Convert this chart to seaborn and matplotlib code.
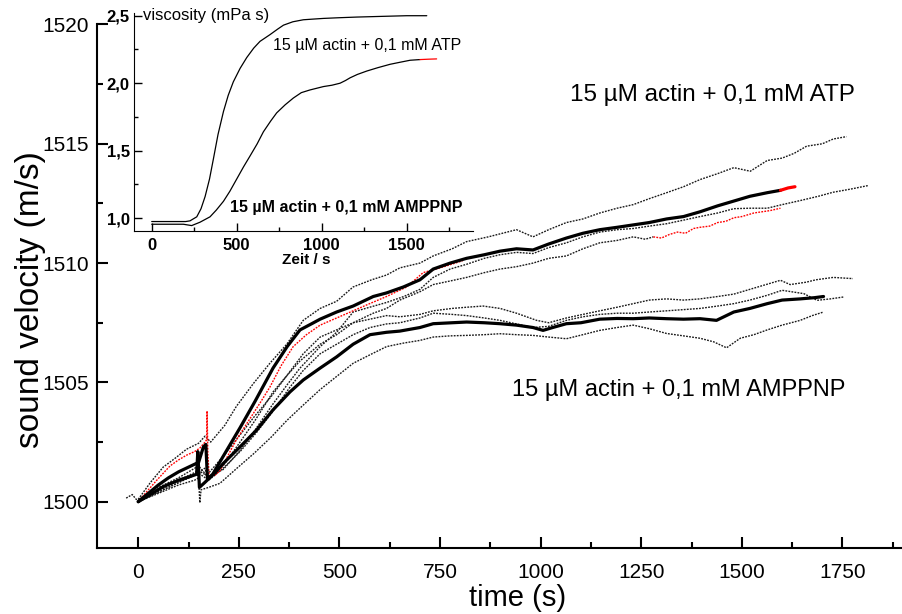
import matplotlib
matplotlib.use("Agg")
import matplotlib.pyplot as plt
import seaborn as sns
from matplotlib.ticker import MultipleLocator, FuncFormatter

# --- sound velocity, 15 uM actin + 0.1 mM ATP ---
atp_mean_x = [0, 25, 50, 75, 100, 125, 150, 162, 168, 172, 185, 211, 253, 290, 335, 370, 402, 430, 452, 493,
              534, 584, 617, 659, 700, 733, 775, 816, 860, 899, 940, 981, 1020, 1064, 1105, 1147, 1190, 1230,
              1270, 1313, 1355, 1396, 1440, 1480, 1520, 1563, 1596]
atp_mean_y = [1500.0, 1500.35, 1500.7, 1501.0, 1501.25, 1501.45, 1501.65, 1502.3, 1502.4, 1500.95, 1501.15,
              1501.9, 1503.1, 1504.2, 1505.6, 1506.5, 1507.2, 1507.45, 1507.65, 1507.95, 1508.2, 1508.6,
              1508.75, 1509.0, 1509.3, 1509.75, 1510.0, 1510.2, 1510.35, 1510.5, 1510.6, 1510.55, 1510.8,
              1511.05, 1511.25, 1511.4, 1511.5, 1511.6, 1511.7, 1511.85, 1511.95, 1512.15, 1512.4, 1512.6,
              1512.8, 1512.95, 1513.05]
atp_mean_end_x = [1596, 1615, 1632]
atp_mean_end_y = [1513.05, 1513.15, 1513.2]

atp_red_x = [0, 20, 46, 79, 100, 120, 140, 153, 166, 170, 171, 173, 176, 190, 203, 225, 244, 265, 286, 305,
             327, 355, 385, 418, 452, 493, 534, 575, 617, 667, 708, 760, 806]
atp_red_y = [1500.0, 1500.4, 1500.9, 1501.5, 1501.75, 1501.95, 1502.1, 1502.25, 1502.5, 1502.6, 1503.8,
             1502.0, 1501.1, 1501.1, 1501.3, 1502.0, 1502.6, 1503.15, 1503.7, 1504.2, 1504.8, 1505.7,
             1506.5, 1507.0, 1507.4, 1507.7, 1508.0, 1508.3, 1508.6, 1509.0, 1509.6, 1509.85, 1510.1]
atp_red2_x = [1280, 1300, 1320, 1340, 1360, 1380, 1396, 1420, 1440, 1460, 1480, 1500, 1530, 1550, 1570, 1596]
atp_red2_y = [1511.1, 1511.05, 1511.2, 1511.3, 1511.25, 1511.45, 1511.5, 1511.55, 1511.7, 1511.75, 1511.9,
              1511.95, 1512.1, 1512.15, 1512.2, 1512.3]

atp_mid_x = [0, 50, 100, 150, 165, 176, 211, 253, 290, 335, 370, 402, 452, 493, 534, 584, 617, 650, 700, 733,
             775, 816, 860, 899, 940, 981, 1020, 1064, 1105, 1147, 1190, 1230, 1260, 1280]
atp_mid_y = [1500.0, 1500.4, 1500.8, 1501.2, 1501.4, 1501.0, 1501.5, 1502.5, 1503.4, 1504.6, 1505.3, 1505.9,
             1506.6, 1507.0, 1507.5, 1507.9, 1508.1, 1508.45, 1508.8, 1509.1, 1509.25, 1509.4, 1509.6,
             1509.75, 1509.85, 1510.0, 1510.2, 1510.3, 1510.6, 1510.85, 1510.95, 1511.1, 1511.0, 1511.1]

atp_hi_x = [0, 30, 62, 90, 120, 150, 166, 180, 215, 244, 286, 327, 369, 410, 452, 493, 534, 580, 617, 650,
            700, 733, 780, 816, 870, 940, 981, 1020, 1064, 1105, 1147, 1190, 1230, 1270, 1313, 1355, 1396,
            1440, 1480, 1521, 1563, 1600, 1630, 1661, 1700, 1727, 1760]
atp_hi_y = [1500.1, 1500.8, 1501.45, 1501.8, 1502.2, 1502.45, 1502.75, 1502.5, 1503.2, 1504.0, 1504.95,
            1505.8, 1506.6, 1507.6, 1508.1, 1508.4, 1509.0, 1509.3, 1509.5, 1509.8, 1510.0, 1510.3, 1510.6,
            1510.9, 1511.1, 1511.4, 1511.1, 1511.4, 1511.7, 1511.85, 1512.1, 1512.3, 1512.45, 1512.7,
            1512.95, 1513.2, 1513.5, 1513.75, 1514.0, 1513.85, 1514.3, 1514.4, 1514.6, 1514.9, 1515.0,
            1515.2, 1515.3]

atp_lo_x = [0, 50, 100, 150, 175, 211, 253, 290, 335, 370, 402, 452, 493, 534, 575, 617, 660, 700, 733, 775,
            816, 860, 899, 940, 981, 1020, 1064, 1105, 1147, 1190, 1230, 1270, 1313, 1355, 1396, 1440, 1480,
            1520, 1563, 1600, 1645, 1690, 1727, 1770, 1814]
atp_lo_y = [1500.0, 1500.45, 1500.9, 1501.3, 1501.05, 1501.35, 1502.15, 1503.0, 1504.1, 1504.9, 1505.6,
            1506.5, 1507.1, 1507.95, 1508.15, 1508.35, 1508.6, 1508.9, 1509.4, 1509.75, 1509.95, 1510.2,
            1510.35, 1510.45, 1510.4, 1510.65, 1510.85, 1511.1, 1511.3, 1511.4, 1511.45, 1511.55, 1511.65,
            1511.8, 1511.95, 1512.1, 1512.28, 1512.3, 1512.3, 1512.45, 1512.62, 1512.8, 1512.97, 1513.1,
            1513.25]

# --- sound velocity, 15 uM actin + 0.1 mM AMPPNP ---
amp_mean_x = [0, 30, 62, 100, 128, 145, 148, 152, 165, 190, 211, 253, 294, 335, 377, 410, 452, 493, 534, 576,
              617, 650, 700, 733, 780, 816, 860, 899, 940, 981, 1006, 1030, 1064, 1100, 1147, 1190, 1230,
              1270, 1313, 1355, 1396, 1437, 1480, 1520, 1563, 1600, 1645, 1680, 1703]
amp_mean_y = [1500.0, 1500.3, 1500.63, 1500.9, 1501.05, 1501.15, 1502.1, 1500.6, 1500.8, 1501.2, 1501.6,
              1502.3, 1503.0, 1503.85, 1504.6, 1505.1, 1505.6, 1506.07, 1506.6, 1507.0, 1507.1, 1507.15,
              1507.3, 1507.46, 1507.5, 1507.53, 1507.5, 1507.46, 1507.4, 1507.3, 1507.18, 1507.3, 1507.46,
              1507.5, 1507.65, 1507.68, 1507.67, 1507.7, 1507.67, 1507.65, 1507.67, 1507.6, 1507.95, 1508.1,
              1508.3, 1508.45, 1508.5, 1508.55, 1508.6]

amp_hi_x = [0, 50, 100, 140, 150, 170, 211, 253, 290, 330, 370, 410, 452, 493, 534, 576, 617, 650, 700, 733,
            780, 816, 857, 899, 940, 990, 1020, 1064, 1105, 1147, 1190, 1230, 1270, 1313, 1355, 1396, 1440,
            1480, 1540, 1596, 1620, 1660, 1684, 1727, 1776]
amp_hi_y = [1500.1, 1500.6, 1501.0, 1501.4, 1501.5, 1501.1, 1501.9, 1502.8, 1503.6, 1504.4, 1505.3, 1506.2,
            1506.9, 1507.2, 1507.5, 1507.65, 1507.8, 1507.75, 1507.85, 1508.0, 1508.1, 1508.15, 1508.2,
            1508.1, 1507.9, 1507.6, 1507.5, 1507.7, 1507.85, 1508.0, 1508.15, 1508.3, 1508.45, 1508.5,
            1508.45, 1508.5, 1508.6, 1508.7, 1509.0, 1509.28, 1509.1, 1509.2, 1509.3, 1509.4, 1509.35]

amp_mid_x = [0, 50, 100, 150, 175, 211, 253, 294, 335, 377, 410, 452, 493, 534, 576, 617, 650, 700, 733, 780,
             816, 860, 899, 940, 981, 1020, 1064, 1105, 1147, 1190, 1230, 1270, 1313, 1355, 1396, 1440, 1480,
             1520, 1563, 1600, 1654, 1687, 1720, 1753]
amp_mid_y = [1500.0, 1500.4, 1500.8, 1501.2, 1500.9, 1501.4, 1502.1, 1502.9, 1503.8, 1504.8, 1505.5, 1506.2,
             1506.6, 1507.0, 1507.3, 1507.45, 1507.5, 1507.7, 1507.9, 1507.85, 1507.8, 1507.7, 1507.6,
             1507.45, 1507.3, 1507.35, 1507.6, 1507.75, 1507.85, 1507.9, 1507.9, 1507.95, 1508.0, 1508.05,
             1508.1, 1508.2, 1508.3, 1508.45, 1508.65, 1508.86, 1508.72, 1508.44, 1508.5, 1508.58]

amp_lo_x = [-30, -15, 0, 50, 100, 140, 150, 153, 156, 175, 203, 245, 286, 330, 369, 410, 452, 493, 534, 575,
            617, 660, 700, 733, 775, 816, 860, 899, 940, 981, 1020, 1064, 1105, 1147, 1190, 1230, 1270, 1313,
            1355, 1396, 1430, 1462, 1496, 1530, 1563, 1600, 1645, 1675, 1703]
amp_lo_y = [1500.15, 1500.3, 1500.0, 1500.35, 1500.7, 1500.9, 1501.0, 1499.95, 1500.5, 1500.6, 1500.77,
            1501.4, 1502.0, 1502.7, 1503.4, 1504.05, 1504.7, 1505.25, 1505.8, 1506.15, 1506.5, 1506.65,
            1506.76, 1506.9, 1506.95, 1506.97, 1507.0, 1507.04, 1507.0, 1506.97, 1506.9, 1506.83, 1507.0,
            1507.18, 1507.3, 1507.4, 1507.25, 1507.05, 1506.95, 1506.85, 1506.7, 1506.45, 1506.85, 1507.0,
            1507.2, 1507.4, 1507.6, 1507.8, 1507.95]

# --- inset: viscosity ---
visc_atp_x = [0, 100, 200, 225, 265, 290, 314, 340, 363, 390, 422, 450, 480, 520, 559, 600, 637, 696, 740,
              775, 830, 892, 950, 1010, 1100, 1206, 1350, 1500, 1618]
visc_atp_y = [0.975, 0.975, 0.975, 0.98, 1.01, 1.07, 1.16, 1.29, 1.44, 1.62, 1.79, 1.91, 2.01, 2.11, 2.19,
              2.26, 2.31, 2.36, 2.40, 2.43, 2.455, 2.47, 2.475, 2.48, 2.485, 2.49, 2.495, 2.5, 2.5]
visc_amp_x = [0, 100, 186, 235, 284, 343, 380, 422, 460, 500, 540, 578, 620, 657, 700, 735, 785, 833, 880,
              931, 1010, 1060, 1108, 1140, 1167, 1210, 1265, 1330, 1402, 1460, 1520, 1578]
visc_amp_y = [0.955, 0.955, 0.955, 0.945, 0.97, 1.01, 1.06, 1.125, 1.2, 1.29, 1.38, 1.46, 1.55, 1.64, 1.72,
              1.78, 1.84, 1.89, 1.93, 1.95, 1.975, 1.985, 2.0, 2.02, 2.04, 2.065, 2.09, 2.115, 2.14, 2.155,
              2.17, 2.175]
visc_amp_red_x = [1578, 1630, 1676]
visc_amp_red_y = [2.175, 2.178, 2.18]

sns.set_style("ticks")
plt.rcParams['font.family'] = ['Liberation Sans', 'DejaVu Sans']
plt.rcParams.update({'text.color': 'black', 'axes.labelcolor': 'black', 'axes.edgecolor': 'black',
                     'xtick.color': 'black', 'ytick.color': 'black'})

fig = plt.figure(figsize=(9.02, 6.14), dpi=100)
ax = fig.add_axes([0.1075, 0.1075, 0.8925, 0.8534])

DOT = (0, (1.3, 0.9))


def line(a, x, y, color='black', lw=1.0, ls=DOT, z=2):
    sns.lineplot(x=x, y=y, ax=a, color=color, linewidth=lw, linestyle=ls,
                 sort=False, estimator=None, zorder=z)


# dotted single runs
for xs, ys in [(atp_hi_x, atp_hi_y), (atp_mid_x, atp_mid_y), (atp_lo_x, atp_lo_y),
               (amp_hi_x, amp_hi_y), (amp_mid_x, amp_mid_y), (amp_lo_x, amp_lo_y)]:
    line(ax, xs, ys, color='#1a1a1a')
line(ax, atp_red_x, atp_red_y, color='red', z=3)
line(ax, atp_red2_x, atp_red2_y, color='red', z=3)

# averaged curves
line(ax, atp_mean_x, atp_mean_y, lw=2.3, ls='-', z=4)
line(ax, atp_mean_end_x, atp_mean_end_y, color='red', lw=2.3, ls='-', z=4)
line(ax, amp_mean_x, amp_mean_y, lw=2.3, ls='-', z=4)

ax.set_xlim(-102.6, 1898)
ax.set_ylim(1498.06, 1520.02)
ax.xaxis.set_major_locator(MultipleLocator(250))
ax.xaxis.set_minor_locator(MultipleLocator(125))
ax.yaxis.set_major_locator(MultipleLocator(5))
ax.yaxis.set_minor_locator(MultipleLocator(2.5))
ax.tick_params(which='both', direction='in', width=1.5, labelsize=15)
ax.tick_params(which='major', length=8)
ax.tick_params(which='minor', length=4)
ax.tick_params(axis='x', pad=11)
ax.tick_params(axis='y', pad=6)
for s in ['top', 'right']:
    ax.spines[s].set_visible(False)
for s in ['left', 'bottom']:
    ax.spines[s].set_linewidth(1.5)

ax.set_xlabel('time (s)', fontsize=21)
ax.xaxis.set_label_coords(0.523, -0.069)
ax.set_ylabel('sound velocity (m/s)', fontsize=24)
ax.yaxis.set_label_coords(-0.063, 0.475)

ax.text(1072, 1517.06, '15 µM actin + 0,1 mM ATP', fontsize=17.5, ha='left', va='center')
ax.text(928, 1504.67, '15 µM actin + 0,1 mM AMPPNP', fontsize=17, ha='left', va='center')

# inset
ins = fig.add_axes([0.1486, 0.6238, 0.3758, 0.355])
ins.set_facecolor('white')
line(ins, visc_atp_x, visc_atp_y, lw=0.9, ls='-')
line(ins, visc_amp_x, visc_amp_y, lw=0.9, ls='-')
line(ins, visc_amp_red_x, visc_amp_red_y, color='red', lw=0.9, ls='-')
ins.set_xlim(-104, 1890)
ins.set_ylim(0.905, 2.52)
ins.xaxis.set_major_locator(MultipleLocator(500))
ins.xaxis.set_minor_locator(MultipleLocator(250))
ins.yaxis.set_major_locator(MultipleLocator(0.5))
ins.yaxis.set_minor_locator(MultipleLocator(0.25))
ins.yaxis.set_major_formatter(FuncFormatter(lambda v, p: f'{v:.1f}'.replace('.', ',')))
ins.tick_params(which='both', direction='in', width=1.0, labelsize=12)
ins.tick_params(which='major', length=6)
ins.tick_params(which='minor', length=3)
ins.tick_params(axis='x', pad=5)
ins.tick_params(axis='y', pad=3)
for lab in ins.get_xticklabels() + ins.get_yticklabels():
    lab.set_fontweight('bold')
for s in ['top', 'right']:
    ins.spines[s].set_visible(False)
ins.set_xlabel('Zeit / s', fontsize=11, fontweight='bold')
ins.xaxis.set_label_coords(0.507, -0.10)
ins.set_ylabel('')

ins.text(-51, 2.5, 'viscosity (mPa s)', fontsize=12, ha='left', va='center')
ins.text(713, 2.28, '15 µM actin + 0,1 mM ATP', fontsize=11.5, ha='left', va='center')
ins.text(460, 1.077, '15 µM actin + 0,1 mM AMPPNP', fontsize=11.5, fontweight='bold',
         ha='left', va='center')

fig.savefig('out.png', dpi=100)
